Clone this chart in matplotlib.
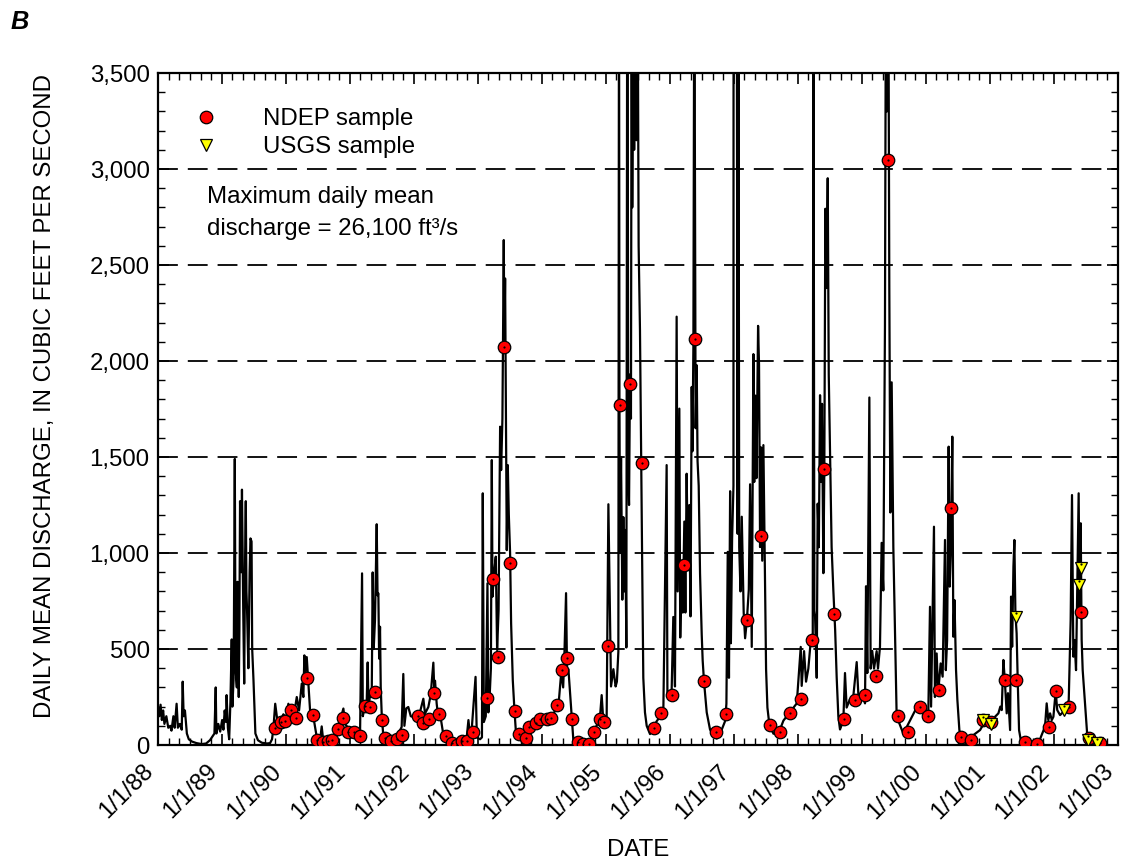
import datetime as dt
import matplotlib
matplotlib.use("Agg")
import matplotlib.pyplot as plt
import matplotlib.dates as mdates
from matplotlib.lines import Line2D
from matplotlib.ticker import MultipleLocator, FuncFormatter

plt.rcParams['font.family'] = ['Liberation Sans', 'DejaVu Sans']

# Daily mean discharge hydrograph, vertices as (decimal year, ft3/s)
flow_points = [
    (1988.00, 200), (1988.02, 150), (1988.04, 210), (1988.06, 130), (1988.08, 180),
    (1988.10, 110), (1988.13, 150), (1988.16, 90), (1988.19, 100), (1988.21, 75),
    (1988.24, 150), (1988.26, 90), (1988.29, 215), (1988.31, 90), (1988.34, 110),
    (1988.37, 80), (1988.385, 330), (1988.40, 150), (1988.42, 180), (1988.45, 60),
    (1988.48, 30), (1988.53, 18), (1988.60, 10), (1988.68, 5), (1988.75, 8),
    (1988.81, 25), (1988.85, 45), (1988.88, 60), (1988.90, 300), (1988.91, 60),
    (1988.94, 110), (1988.97, 70), (1989.00, 130), (1989.02, 80), (1989.04, 180),
    (1989.06, 120), (1989.07, 260), (1989.09, 90), (1989.11, 30), (1989.13, 230),
    (1989.15, 550), (1989.16, 200), (1989.18, 350), (1989.198, 1490), (1989.21, 400),
    (1989.23, 300), (1989.24, 850), (1989.26, 250), (1989.27, 600), (1989.28, 1270),
    (1989.30, 900), (1989.31, 1330), (1989.33, 700), (1989.345, 320), (1989.36, 1000),
    (1989.37, 1270), (1989.38, 800), (1989.39, 700), (1989.41, 400), (1989.43, 900),
    (1989.443, 1076), (1989.46, 1060), (1989.47, 500), (1989.49, 340), (1989.52, 60),
    (1989.56, 25), (1989.62, 12), (1989.70, 8), (1989.75, 10), (1989.78, 30),
    (1989.80, 80), (1989.83, 215), (1989.87, 110), (1989.906, 128), (1989.958, 160),
    (1990.00, 140), (1990.036, 215), (1990.06, 150), (1990.089, 145), (1990.13, 170),
    (1990.167, 250), (1990.203, 180), (1990.245, 320), (1990.27, 250), (1990.286, 467),
    (1990.30, 380), (1990.323, 458), (1990.349, 320), (1990.375, 180), (1990.427, 146),
    (1990.479, 42), (1990.531, 25), (1990.557, 97), (1990.583, 16), (1990.688, 16),
    (1990.766, 24), (1990.818, 94), (1990.896, 190), (1990.922, 110), (1991.00, 75),
    (1991.078, 68), (1991.156, 42), (1991.188, 894), (1991.20, 150), (1991.23, 200),
    (1991.26, 215), (1991.276, 430), (1991.29, 180), (1991.313, 270), (1991.339, 250),
    (1991.354, 899), (1991.37, 500), (1991.39, 650), (1991.417, 1150), (1991.43, 780),
    (1991.443, 790), (1991.455, 450), (1991.469, 616), (1991.48, 300), (1991.495, 164),
    (1991.521, 42), (1991.573, 16), (1991.651, 10), (1991.729, 42), (1991.807, 94),
    (1991.833, 370), (1991.85, 100), (1991.88, 191), (1991.911, 198), (1991.95, 150),
    (1991.99, 146), (1992.03, 160), (1992.068, 164), (1992.10, 180), (1992.146, 241),
    (1992.16, 200), (1992.172, 164), (1992.224, 198), (1992.26, 260), (1992.302, 429),
    (1992.315, 300), (1992.328, 335), (1992.354, 215), (1992.38, 140), (1992.406, 164),
    (1992.45, 70), (1992.484, 42), (1992.563, 16), (1992.667, 7), (1992.745, 16),
    (1992.823, 42), (1992.849, 130), (1992.87, 60), (1992.90, 80), (1992.96, 355),
    (1992.98, 40), (1993.03, 30), (1993.06, 40), (1993.073, 1311), (1993.09, 120),
    (1993.12, 150), (1993.146, 842), (1993.16, 170), (1993.18, 250), (1993.20, 400),
    (1993.214, 1484), (1993.225, 773), (1993.25, 900), (1993.276, 981), (1993.297, 495),
    (1993.32, 700), (1993.344, 1658), (1993.36, 1432), (1993.38, 1700), (1993.401, 2630),
    (1993.41, 2074), (1993.422, 2430), (1993.435, 1692), (1993.448, 1015), (1993.464, 1458),
    (1993.48, 1200), (1993.50, 1000), (1993.516, 634), (1993.542, 338), (1993.568, 182),
    (1993.589, 78), (1993.656, 60), (1993.76, 50), (1993.865, 113), (1993.95, 130),
    (1994.02, 147), (1994.07, 140), (1994.125, 165), (1994.18, 150), (1994.22, 220),
    (1994.25, 180), (1994.281, 300), (1994.30, 380), (1994.33, 300), (1994.35, 480),
    (1994.375, 791), (1994.39, 400), (1994.412, 395), (1994.44, 260), (1994.464, 136),
    (1994.49, 22), (1994.542, 5), (1994.646, 3), (1994.75, 12), (1994.828, 79),
    (1994.906, 147), (1994.932, 260), (1994.958, 124), (1995.01, 147), (1995.037, 1254),
    (1995.05, 960), (1995.078, 305), (1995.115, 395), (1995.15, 305), (1995.17, 330),
    (1995.193, 486), (1995.203, 4200), (1995.21, 1800), (1995.219, 1000), (1995.235, 1500),
    (1995.255, 757), (1995.271, 1187), (1995.29, 800), (1995.302, 1120), (1995.318, 508),
    (1995.333, 4500), (1995.349, 1390), (1995.36, 1250), (1995.375, 1930), (1995.39, 1700),
    (1995.401, 4000), (1995.41, 2800), (1995.427, 4000), (1995.44, 3100), (1995.458, 4000),
    (1995.475, 3150), (1995.495, 4000), (1995.51, 2600), (1995.531, 2160), (1995.55, 1470),
    (1995.563, 1030), (1995.583, 350), (1995.609, 170), (1995.636, 100), (1995.688, 57),
    (1995.792, 124), (1995.896, 170), (1995.948, 1458), (1995.96, 260), (1996.026, 283),
    (1996.052, 667), (1996.078, 305), (1996.104, 2231), (1996.12, 800), (1996.146, 1752),
    (1996.16, 560), (1996.182, 960), (1996.20, 690), (1996.224, 1164), (1996.24, 690),
    (1996.26, 1413), (1996.28, 910), (1996.302, 1250), (1996.32, 670), (1996.339, 1865),
    (1996.35, 1530), (1996.365, 2068), (1996.38, 4200), (1996.40, 1650), (1996.417, 1978),
    (1996.43, 1480), (1996.448, 1350), (1996.469, 893), (1996.495, 576), (1996.51, 440),
    (1996.531, 330), (1996.573, 170), (1996.625, 80), (1996.729, 34), (1996.807, 80),
    (1996.859, 124), (1996.88, 215), (1996.901, 1006), (1996.92, 350), (1996.938, 1322),
    (1996.95, 530), (1996.969, 1074), (1996.99, 1350), (1997.005, 26100), (1997.03, 3800),
    (1997.042, 4000), (1997.055, 1100), (1997.068, 4000), (1997.08, 1031), (1997.10, 800),
    (1997.12, 1189), (1997.15, 690), (1997.172, 556), (1997.20, 650), (1997.23, 810),
    (1997.25, 1358), (1997.276, 511), (1997.302, 2036), (1997.315, 1370), (1997.333, 1820),
    (1997.35, 1390), (1997.375, 2183), (1997.39, 1980), (1997.406, 1031), (1997.422, 1550),
    (1997.44, 960), (1997.458, 1562), (1997.48, 940), (1997.50, 395), (1997.521, 195),
    (1997.552, 104), (1997.615, 59), (1997.693, 59), (1997.771, 127), (1997.875, 172),
    (1997.98, 217), (1998.042, 511), (1998.057, 308), (1998.094, 489), (1998.125, 330),
    (1998.161, 398), (1998.19, 510), (1998.214, 550), (1998.23, 580), (1998.24, 4200),
    (1998.255, 700), (1998.266, 670), (1998.292, 350), (1998.307, 1257), (1998.325, 1030),
    (1998.344, 1822), (1998.36, 1370), (1998.375, 1777), (1998.396, 895), (1998.411, 1440),
    (1998.427, 2793), (1998.445, 2380), (1998.464, 2952), (1998.48, 1930), (1998.50, 1528),
    (1998.525, 1030), (1998.552, 805), (1998.58, 600), (1998.604, 353), (1998.63, 149),
    (1998.656, 81), (1998.708, 127), (1998.734, 375), (1998.76, 195), (1998.813, 240),
    (1998.86, 240), (1998.917, 432), (1998.943, 263), (1998.995, 263), (1999.047, 217),
    (1999.063, 827), (1999.083, 375), (1999.115, 1810), (1999.135, 398), (1999.16, 490),
    (1999.188, 398), (1999.229, 489), (1999.25, 398), (1999.281, 511), (1999.307, 1053),
    (1999.333, 805), (1999.359, 2183), (1999.375, 4200), (1999.39, 3300), (1999.411, 4200),
    (1999.427, 2380), (1999.443, 1211), (1999.464, 1889), (1999.49, 1031), (1999.516, 579),
    (1999.542, 149), (1999.594, 104), (1999.646, 59), (1999.75, 127), (1999.854, 195),
    (1999.958, 165), (2000.036, 147), (2000.063, 720), (2000.08, 200), (2000.125, 1137),
    (2000.14, 250), (2000.167, 477), (2000.19, 270), (2000.229, 425), (2000.26, 356),
    (2000.297, 1068), (2000.31, 390), (2000.33, 546), (2000.354, 1554), (2000.37, 825),
    (2000.39, 1033), (2000.411, 1606), (2000.427, 564), (2000.445, 755), (2000.469, 391),
    (2000.49, 235), (2000.521, 78), (2000.557, 18), (2000.635, 9), (2000.74, 52),
    (2000.844, 78), (2000.948, 139), (2001.026, 130), (2001.13, 165), (2001.16, 200),
    (2001.182, 182), (2001.208, 443), (2001.23, 338), (2001.26, 165), (2001.28, 270),
    (2001.313, 78), (2001.328, 773), (2001.345, 512), (2001.365, 929), (2001.38, 1068),
    (2001.396, 686), (2001.415, 582), (2001.432, 339), (2001.453, 78), (2001.484, 18),
    (2001.573, 26), (2001.677, 9), (2001.755, 9), (2001.807, 52), (2001.859, 96),
    (2001.885, 217), (2001.91, 130), (2001.938, 165), (2001.965, 130), (2001.99, 147),
    (2002.026, 281), (2002.05, 182), (2002.094, 156), (2002.15, 174), (2002.198, 200),
    (2002.23, 234), (2002.26, 651), (2002.281, 1302), (2002.302, 460), (2002.32, 547),
    (2002.344, 390), (2002.365, 859), (2002.385, 1311), (2002.40, 686), (2002.417, 1155),
    (2002.432, 547), (2002.448, 390), (2002.47, 287), (2002.495, 165), (2002.521, 43),
    (2002.615, 18), (2002.719, 9), (2002.75, 9),
]

# NDEP water-quality samples (decimal year, discharge ft3/s)
ndep_year = [
    1989.828, 1989.922, 1989.980, 1990.073, 1990.161, 1990.323, 1990.422, 1990.489,
    1990.583, 1990.652, 1990.723, 1990.817, 1990.895, 1990.965, 1991.0625, 1991.156,
    1991.230, 1991.307, 1991.395, 1991.495, 1991.547, 1991.645, 1991.730, 1991.817,
    1992.067, 1992.145, 1992.239, 1992.317, 1992.391, 1992.495, 1992.589, 1992.667,
    1992.745, 1992.833, 1992.917, 1993.145, 1993.239, 1993.317, 1993.411, 1993.505,
    1993.583, 1993.641, 1993.755, 1993.802, 1993.902, 1993.973, 1994.070, 1994.141,
    1994.230, 1994.308, 1994.391, 1994.464, 1994.558, 1994.645, 1994.730, 1994.808,
    1994.906, 1994.973, 1995.036, 1995.219, 1995.380, 1995.558, 1995.750, 1995.859,
    1996.036, 1996.219, 1996.395, 1996.531, 1996.723, 1996.875, 1997.198, 1997.417,
    1997.5625, 1997.714, 1997.875, 1998.042, 1998.214, 1998.411, 1998.567, 1998.719,
    1998.886, 1999.042, 1999.214, 1999.406, 1999.5625, 1999.714, 1999.902, 2000.036,
    2000.208, 2000.395, 2000.547, 2000.698, 2000.895, 2001.020, 2001.230, 2001.411,
    2001.547, 2001.734, 2001.917, 2002.027, 2002.230, 2002.417, 2002.552, 2002.719,
]
ndep_cfs = [
    90, 118, 123, 182, 141, 351, 158, 26,
    17, 21, 24, 85, 142, 66, 69, 48,
    203, 196, 276, 130, 35, 23, 33, 54,
    153, 116, 135, 269, 161, 47, 12, 2,
    19, 23, 69, 246, 865, 457, 2071, 949,
    175, 57, 38, 94, 113, 135, 134, 140,
    210, 391, 454, 136, 18, 5, 5, 68,
    133, 120, 518, 1770, 1881, 1469, 90, 165,
    258, 938, 2117, 335, 66, 160, 653, 1089,
    106, 70, 167, 242, 549, 1440, 685, 138,
    237, 258, 357, 3049, 149, 68, 199, 149,
    286, 1233, 43, 28, 130, 118, 339, 339,
    17, 4, 92, 281, 200, 693, 35, 12,
]

# USGS samples
usgs_year = [2000.895, 2001.020, 2001.402, 2002.161, 2002.386, 2002.422, 2002.527, 2002.668]
usgs_cfs = [128, 110, 668, 182, 835, 923, 26, 9]

year_ticks = list(range(1988, 2004))
tick_labels = [f"1/1/{y % 100:02d}" for y in year_ticks]


def to_date(yr):
    start = dt.datetime(int(yr), 1, 1)
    end = dt.datetime(int(yr) + 1, 1, 1)
    return start + (end - start) * (yr - int(yr))


flow_dates = [to_date(t) for t, _ in flow_points]
flow_vals = [q for _, q in flow_points]
ndep_dates = [to_date(t) for t in ndep_year]
usgs_dates = [to_date(t) for t in usgs_year]

FS = 17.3
MS = 9

fig = plt.figure(figsize=(11.27, 8.65), dpi=100)
ax = fig.add_axes([0.1402, 0.1387, 0.8518, 0.7769])

for yv in range(500, 3500, 500):
    ax.axhline(yv, color='black', lw=1.3, dashes=(11, 5.5), zorder=1)

ax.plot(flow_dates, flow_vals, color='black', lw=1.6, zorder=2)

ax.plot(ndep_dates, ndep_cfs, ls='none', marker='o', ms=MS, mfc='#ff0000',
        mec='black', mew=0.9, zorder=3)
ax.plot(ndep_dates, ndep_cfs, ls='none', marker='o', ms=1.6, mfc='black',
        mec='black', mew=0, zorder=4)
ax.plot(usgs_dates, usgs_cfs, ls='none', marker='v', ms=MS, mfc='#ffff00',
        mec='black', mew=0.9, zorder=5)
ax.plot(usgs_dates, [v + 20 for v in usgs_cfs], ls='none', marker='o', ms=1.6,
        mfc='black', mec='black', mew=0, zorder=6)

ax.set_xlim(dt.datetime(1988, 1, 1), dt.datetime(2003, 1, 1))
ax.set_ylim(0, 3500)

ax.set_xticks([dt.datetime(y, 1, 1) for y in year_ticks])
# rotated date labels: bounding box right edge sits at the tick
ax.set_xticklabels(tick_labels, rotation=45, ha='right', va='top',
                   rotation_mode='default', fontsize=FS)
ax.xaxis.set_minor_locator(mdates.MonthLocator(bymonth=[3, 5, 7, 9, 11]))
ax.yaxis.set_major_locator(MultipleLocator(500))
ax.yaxis.set_minor_locator(MultipleLocator(100))
ax.yaxis.set_major_formatter(FuncFormatter(lambda v, p: f"{int(v):,}"))
ax.tick_params(axis='y', labelsize=FS)
ax.tick_params(which='major', direction='in', length=8, width=1.2,
               top=True, right=True, pad=6)
ax.tick_params(which='minor', direction='in', length=5, width=1.0,
               top=True, right=True)
ax.tick_params(axis='x', which='major', pad=11)
for s in ax.spines.values():
    s.set_linewidth(1.6)

ax.set_ylabel('DAILY MEAN DISCHARGE, IN CUBIC FEET PER SECOND', fontsize=FS,
              va='center')
ax.yaxis.set_label_coords(-0.1177, 0.519)
ax.set_xlabel('DATE', fontsize=FS, va='center')
ax.xaxis.set_label_coords(0.5, -0.156)

handles = [
    Line2D([], [], ls='none', marker='o', ms=MS, mfc='#ff0000', mec='black', mew=0.9),
    Line2D([], [], ls='none', marker='v', ms=MS, mfc='#ffff00', mec='black', mew=0.9),
]
ax.legend(handles, ['NDEP sample', 'USGS sample'], loc='upper left',
          bbox_to_anchor=(0.012, 0.98), frameon=False, fontsize=FS,
          handletextpad=1.8, labelspacing=0.25, handlelength=1.2)

ax.text(0.051, 0.832, 'Maximum daily mean\ndischarge = 26,100 ft\u00b3/s',
        transform=ax.transAxes, fontsize=FS, va='top', ha='left', linespacing=1.6)

fig.text(0.009, 0.975, 'B', fontsize=FS + 1, fontweight='bold', fontstyle='italic',
         va='center', ha='left')

fig.savefig('out.png', dpi=100)
